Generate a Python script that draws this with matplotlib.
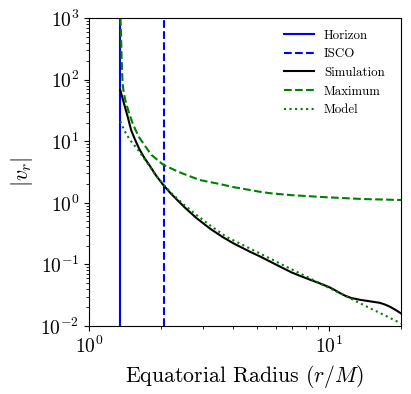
import numpy as np
import matplotlib
matplotlib.use('Agg')
import matplotlib.pyplot as plt

plt.rcParams['font.family'] = 'serif'
plt.rcParams['font.serif'] = ['cmr10', 'DejaVu Serif']
plt.rcParams['mathtext.fontset'] = 'cm'
plt.rcParams['axes.formatter.use_mathtext'] = True
plt.rcParams['axes.unicode_minus'] = False

# horizon and ISCO radius (r/M)
r_horizon = 1.345
r_isco = 2.05

# simulation
r_sim = [1.35, 1.39, 1.45, 1.50, 1.55, 1.62, 1.70, 1.80, 1.90, 2.04, 2.2, 2.5, 2.8, 3.2, 3.6,
         4.0, 4.7, 5.2, 6.0, 7.0, 7.6, 8.5, 9.2, 10.0, 10.5, 11.1, 11.7, 12.4, 13.5, 15.0,
         16.3, 17.2, 18.0, 19.0, 20.0]
v_sim = [68, 45, 25, 15, 11.0, 7.5, 5.4, 3.9, 2.8, 1.95, 1.4, 0.85, 0.57, 0.38, 0.28,
         0.22, 0.16, 0.133, 0.10, 0.074, 0.065, 0.055, 0.049, 0.043, 0.039, 0.0345, 0.031,
         0.0285, 0.0266, 0.025, 0.0238, 0.0222, 0.0205, 0.0182, 0.016]

# maximum
r_max = [1.352, 1.358, 1.367, 1.38, 1.395, 1.42, 1.46, 1.51, 1.56, 1.62, 1.72, 1.82, 2.05,
         2.4, 2.9, 3.4, 4.0, 5.16, 5.7, 7.0, 9.8, 14.0, 20.0]
v_max = [1000, 700, 250, 90, 62, 45, 31, 21, 15.5, 11.5, 8.2, 6.0, 4.1,
         3.1, 2.34, 2.07, 1.8, 1.51, 1.43, 1.33, 1.23, 1.15, 1.11]

# model
r_mod = [1.35, 1.41, 1.48, 1.55, 1.62, 1.70, 1.80, 1.90, 2.04, 2.2, 2.5, 2.8, 3.2, 3.74,
         4.3, 5.0, 5.7, 6.5, 7.57, 9.17, 10.0, 11.1, 12.2, 13.5, 15.0, 16.3, 18.0, 20.0]
v_mod = [21, 14.5, 10.5, 8.5, 6.8, 5.2, 3.8, 2.8, 2.0, 1.45, 0.92, 0.64, 0.43, 0.28,
         0.214, 0.16, 0.124, 0.096, 0.0716, 0.0495, 0.0418, 0.0342, 0.0285, 0.0234, 0.0191,
         0.0163, 0.0135, 0.011]

fig = plt.figure(figsize=(4.11, 3.94), dpi=100)
ax = fig.add_axes([0.2165, 0.1726, 0.7592, 0.7817])

ax.axvline(r_horizon, color='b', ls='-', lw=1.5, label='Horizon')
ax.axvline(r_isco, color='b', ls='--', lw=1.5, label='ISCO')
ax.plot(r_sim, v_sim, color='k', ls='-', lw=1.5, label='Simulation')
ax.plot(r_max, v_max, color='g', ls='--', lw=1.5, label='Maximum')
ax.plot(r_mod, v_mod, color='g', ls=':', lw=1.5, label='Model')

ax.set_xscale('log')
ax.set_yscale('log')
ax.set_xlim(1, 20)
ax.set_ylim(1e-2, 1e3)
ax.tick_params(labelsize=14)
ax.set_xlabel(r'Equatorial Radius $(r/M)$', fontsize=15.7)
ax.set_ylabel(r'$|v_r|$', fontsize=15.7)
ax.legend(loc='upper right', bbox_to_anchor=(0.985, 1.0), frameon=False, fontsize=9.3,
          handlelength=2.3)

plt.savefig('out.png', dpi=100)
